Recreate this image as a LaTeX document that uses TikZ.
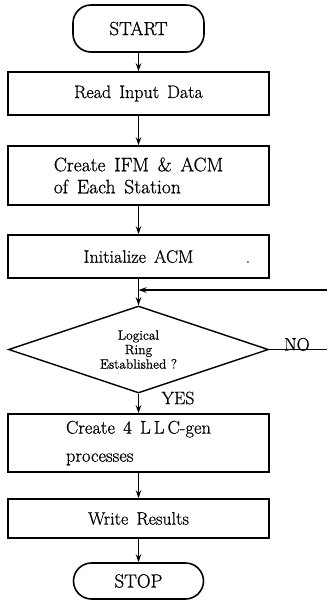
\documentclass[tikz,border=0pt]{standalone}
\usepackage{fontspec}
\setmainfont{Latin Modern Roman}[FakeBold=0.7]
\usetikzlibrary{shapes.geometric,arrows.meta}
% wide word spacing for the box labels
\newcommand{\boxfont}[2]{\fontsize{#1}{#2}\selectfont\spaceskip=0.45em plus 0.1em\relax}
\begin{document}
\begin{tikzpicture}[x=1pt,y=1pt,
  every node/.style={font=\boxfont{18}{24}},
  flow/.style={line width=1.6pt},
  arr/.style={flow,-{Stealth[length=8pt,width=5.5pt]}},
  procbox/.style={draw,line width=1.6pt,minimum width=261pt,inner sep=0pt,align=left},
  termbox/.style={draw,line width=1.6pt,rounded corners=18pt,inner sep=0pt},
  decide/.style={draw,diamond,shape aspect=3,line width=1.4pt,inner sep=0pt,minimum width=260pt,minimum height=87pt,align=center,font=\fontsize{13.5}{14.5}\selectfont}]
\useasboundingbox (0,0) rectangle (327,-610);

\node[termbox,minimum width=131pt,minimum height=47pt,font=\boxfont{19}{24}] (start) at (138.5,-28.5) {START};
\node[procbox,minimum height=43pt] (read) at (138.5,-93.5) {Read Input Data};
\node[procbox,minimum height=59pt,font=\boxfont{19.5}{22}] (ifm) at (138.5,-175.5) {Create IFM \& ACM\\of Each Station};
\node[procbox,minimum height=43pt] (init) at (138.5,-256.5) {Initialize ACM};
\node[font=\fontsize{14}{14}\selectfont,inner sep=0pt] (dot) at (248,-262) {.};
\node[decide] (ring) at (138.5,-349.5) {Logical\\Ring\\Established ?};
\node[procbox,minimum height=58pt,font=\boxfont{18.5}{28}] (llc) at (138.5,-443) {Create 4 L\,L\,C-gen\\processes};
\node[procbox,minimum height=39pt] (write) at (138.5,-518.5) {Write Results};
\node[termbox,minimum width=130pt,minimum height=36pt,font=\boxfont{19}{24}] (stop) at (138.5,-581) {STOP};

\coordinate (join) at (138.5,-290);
\coordinate (back) at (327,-290);
\coordinate (noend) at (327,-349.5);

\draw[arr] (start) -- (read);
\draw[arr] (read) -- (ifm);
\draw[arr] (ifm) -- (init);
\draw[arr] (init) -- (ring);
\draw[arr] (back) -- (join);
\draw[flow] (ring.east) -- (noend);
\draw[arr] (ring) -- (llc);
\draw[arr] (llc) -- (write);
\draw[arr] (write) -- (stop);

\node[anchor=south west,inner sep=0pt] (nolab) at (284,-351) {NO};
\node[anchor=center,inner sep=0pt] (yeslab) at (178,-398) {YES};
\end{tikzpicture}
\end{document}
